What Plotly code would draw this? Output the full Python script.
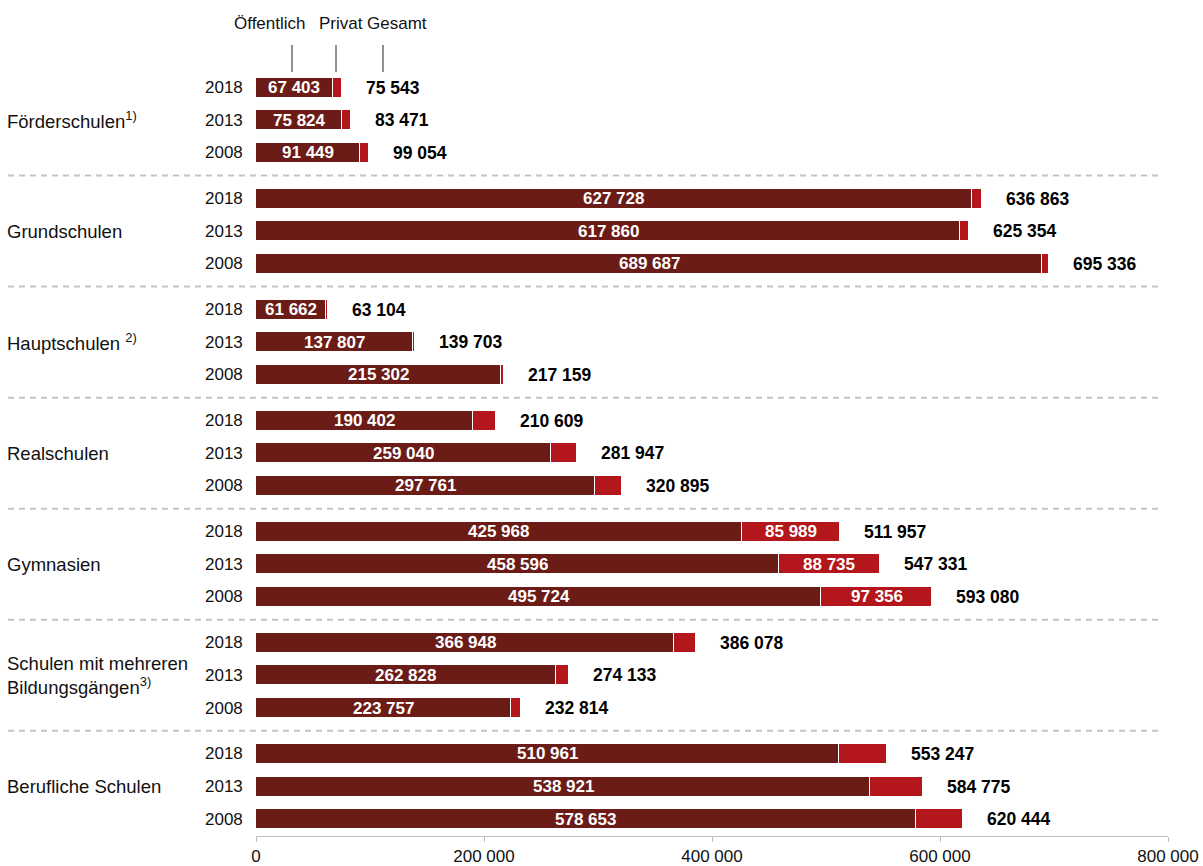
import plotly.graph_objects as go

# ---------------- data ----------------
groups = ["Förderschulen<sup>1)</sup>", "Grundschulen", "Hauptschulen <sup>2)</sup>",
          "Realschulen", "Gymnasien", "Schulen mit mehreren<br>Bildungsgängen<sup>3)</sup>",
          "Berufliche Schulen"]
years = ["2018", "2013", "2008"]

public_2018 = [67403, 627728, 61662, 190402, 425968, 366948, 510961]
public_2013 = [75824, 617860, 137807, 259040, 458596, 262828, 538921]
public_2008 = [91449, 689687, 215302, 297761, 495724, 223757, 578653]

private_2018 = [8140, 9135, 1442, 20207, 85989, 19130, 42286]
private_2013 = [7647, 7494, 1896, 22907, 88735, 11305, 45854]
private_2008 = [7605, 5649, 1857, 23134, 97356, 9057, 41791]

total_2018 = [75543, 636863, 63104, 210609, 511957, 386078, 553247]
total_2013 = [83471, 625354, 139703, 281947, 547331, 274133, 584775]
total_2008 = [99054, 695336, 217159, 320895, 593080, 232814, 620444]

show_private_label = [False, False, False, False, True, False, False]

x_tickvals = [0, 200000, 400000, 600000, 800000]
x_ticktext = ["0", "200 000", "400 000", "600 000", "800 000"]

header_labels = ["Öffentlich", "Privat", "Gesamt"]

# ---------------- layout geometry ----------------
W, H = 1203, 866
PX0, PX1, PY0, PY1 = 256, 1168, 60, 836   # plot area in page pixels
L, T = PX0, PY0
R, B = W - PX1, H - PY1
PW, PH = PX1 - PX0, PY1 - PY0
UNIT = 32.6                   # pixels per bar row
FIRST = 87.5                  # page y of first bar centre
GROUP_STEP = 3.407
U_TOP, U_BOT = (PY0 - FIRST) / UNIT, (PY1 - FIRST) / UNIT
FONT = "Liberation Sans, Arial, sans-serif"
C_PUB = "#6b1c17"
C_PRIV = "#b3171b"


def fmt(v):
    return f"{v:,}".replace(",", " ")


def yp(u):
    return (U_BOT - u) / (U_BOT - U_TOP)


def pxx(px):
    return (px - PX0) / PW


def pxy(py):
    return (PY1 - py) / PH


pub = [public_2018, public_2013, public_2008]
priv = [private_2018, private_2013, private_2008]
tot = [total_2018, total_2013, total_2008]

ys, pubv, privv, totv = [], [], [], []
lab_x, lab_y, lab_t = [], [], []
for g in range(len(groups)):
    for j in range(len(years)):
        u = g * GROUP_STEP + j
        ys.append(u)
        pubv.append(pub[j][g])
        privv.append(priv[j][g])
        totv.append(tot[j][g])
        lab_x.append(pub[j][g] / 2)
        lab_y.append(u)
        lab_t.append(fmt(pub[j][g]))
        if show_private_label[g]:
            lab_x.append(pub[j][g] + priv[j][g] / 2)
            lab_y.append(u)
            lab_t.append(fmt(priv[j][g]))

fig = go.Figure()
fig.add_trace(go.Bar(
    y=ys, x=pubv, orientation="h", width=20 / UNIT,
    marker=dict(color=C_PUB, line=dict(color="white", width=1)),
    hoverinfo="skip", name="Öffentlich"))
fig.add_trace(go.Bar(
    y=ys, x=privv, orientation="h", width=20 / UNIT,
    marker=dict(color=C_PRIV, line=dict(color="white", width=1)),
    hoverinfo="skip", name="Privat"))

annotations = []
shapes = []
# labels inside bars
for x, u, t in zip(lab_x, lab_y, lab_t):
    annotations.append(dict(x=x, y=u, xref="x", yref="y", text=f"<b>{t}</b>",
                            xanchor="center", yanchor="middle", showarrow=False,
                            font=dict(family=FONT, size=17, color="white")))
# totals
for u, t in zip(ys, totv):
    annotations.append(dict(x=t, y=u, xref="x", yref="y", text=f"<b>{fmt(t)}</b>",
                            xanchor="left", yanchor="middle", xshift=22, showarrow=False,
                            font=dict(family=FONT, size=17.5, color="black")))
# years
for i, u in enumerate(ys):
    annotations.append(dict(x=0, y=yp(u), xref="paper", yref="paper", text=years[i % 3],
                            xanchor="right", yanchor="middle", xshift=-11, showarrow=False,
                            font=dict(family=FONT, size=17, color="#111")))
# group labels
for g, name in enumerate(groups):
    annotations.append(dict(x=pxx(8), y=yp(g * GROUP_STEP + 1), xref="paper", yref="paper",
                            text=name, xanchor="left", yanchor="middle", align="left",
                            xshift=-3, showarrow=False,
                            font=dict(family=FONT, size=18.5, color="#111")))
# separators
for g in range(len(groups) - 1):
    yy = yp(g * GROUP_STEP + 2.7)
    shapes.append(dict(type="line", xref="paper", yref="paper", x0=pxx(8), x1=pxx(1160),
                       y0=yy, y1=yy, line=dict(color="#c4c4c4", width=2, dash="6px,5px")))
# header
for lab, cx, lx in zip(header_labels, [270, 341, 397], [292, 336, 383]):
    annotations.append(dict(x=pxx(cx), y=pxy(24), xref="paper", yref="paper", text=lab,
                            xanchor="center", yanchor="middle", showarrow=False,
                            font=dict(family=FONT, size=17, color="#111")))
    shapes.append(dict(type="line", xref="paper", yref="paper", x0=pxx(lx), x1=pxx(lx),
                       y0=pxy(45), y1=pxy(72), line=dict(color="#222", width=1)))

fig.update_layout(
    width=W, height=H, barmode="stack", bargap=0, autosize=False,
    margin=dict(l=L, r=R, t=T, b=B, pad=0),
    plot_bgcolor="white", paper_bgcolor="white", showlegend=False,
    font=dict(family=FONT, size=17, color="#111"),
    xaxis=dict(range=[0, 800000], tickvals=x_tickvals, ticktext=x_ticktext,
               showgrid=False, zeroline=False, showline=True, linecolor="#bfbfbf",
               linewidth=1, ticks="outside", ticklen=5, tickcolor="#bfbfbf",
               tickfont=dict(family=FONT, size=17, color="#111"), fixedrange=True,
               automargin=False),
    yaxis=dict(range=[U_BOT, U_TOP], visible=False, fixedrange=True, automargin=False),
    annotations=annotations, shapes=shapes,
)

fig.write_html(
    "out.html",
    config={"displayModeBar": False},
    post_script="document.body.style.margin='0';document.body.style.overflow='hidden';",
)
